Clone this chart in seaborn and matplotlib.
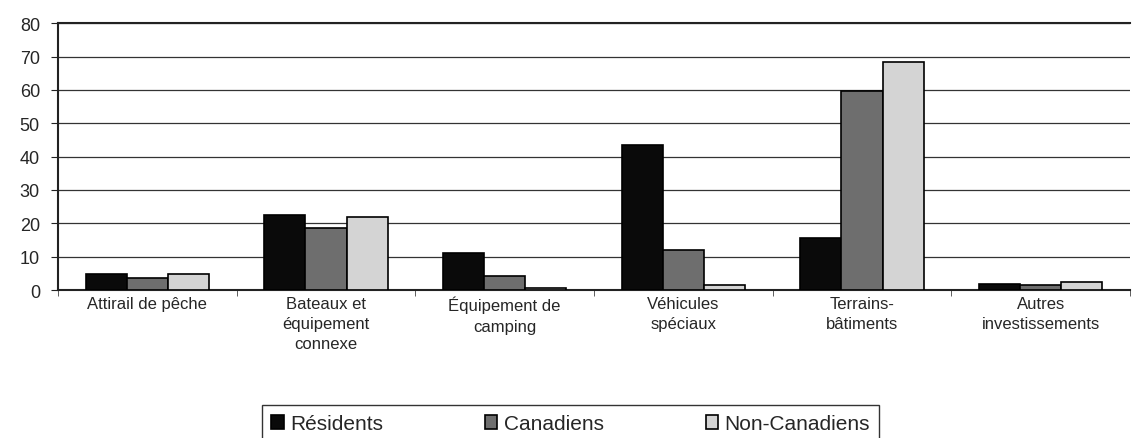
import pandas as pd
import seaborn as sns
import matplotlib.pyplot as plt

categories = ['Attirail de pêche', 'Bateaux et\néquipement\nconnexe', 'Équipement de\ncamping',
              'Véhicules\nspéciaux', 'Terrains-\nbâtiments', 'Autres\ninvestissements']
series = ['Résidents', 'Canadiens', 'Non-Canadiens']
residents = [4.8, 22.5, 11.1, 43.4, 15.6, 1.8]
canadiens = [3.6, 18.6, 4.2, 12.0, 59.6, 1.4]
non_canadiens = [4.8, 21.9, 0.6, 1.5, 68.3, 2.4]

rows = []
for s, vals in zip(series, [residents, canadiens, non_canadiens]):
    for c, v in zip(categories, vals):
        rows.append({'Catégorie': c, 'Groupe': s, 'Valeur': v})
df = pd.DataFrame(rows)

sns.set_style('white')
plt.rcParams['font.family'] = ['Liberation Sans', 'DejaVu Sans']

fig = plt.figure(figsize=(11.32, 4.39), dpi=100)
ax = fig.add_axes([0.0512, 0.337, 0.947, 0.608])
palette = {'Résidents': '#0a0a0a', 'Canadiens': '#6e6e6e', 'Non-Canadiens': '#d4d4d4'}
sns.barplot(data=df, x='Catégorie', y='Valeur', hue='Groupe', palette=palette,
            width=0.69, edgecolor='black', linewidth=1.2, saturation=1, ax=ax, zorder=3)

ax.set_ylim(0, 80)
ax.set_yticks(range(0, 81, 10))
ax.set_xlim(-0.5, 5.5)
ax.yaxis.grid(True, color='#333333', linewidth=0.9)
ax.set_axisbelow(True)
ax.set_xlabel('')
ax.set_ylabel('')
for side in ['left', 'top', 'bottom']:
    ax.spines[side].set_color('#222222')
    ax.spines[side].set_linewidth(1.5)
ax.spines['right'].set_visible(False)
ax.tick_params(axis='y', labelsize=13, length=5, left=True, color='#222222', pad=8)
ax.tick_params(axis='x', labelsize=12, length=0, pad=4)
for lab in ax.get_xticklabels():
    lab.set_linespacing(1.45)
ax.set_xticks([i + 0.5 for i in range(-1, 6)], minor=True)
ax.tick_params(axis='x', which='minor', bottom=True, length=4, color='#444444')

handles, labels = ax.get_legend_handles_labels()
ax.legend_.remove()
leg = fig.legend(handles, labels, loc='lower center', bbox_to_anchor=(0.504, -0.02), ncol=3,
                 fontsize=15, frameon=True, fancybox=False, edgecolor='black',
                 handlelength=0.6, handleheight=0.6, handletextpad=0.3, columnspacing=4.9,
                 borderpad=0.45, borderaxespad=0.2)
leg.get_frame().set_linewidth(1.0)

fig.savefig('out.png', dpi=100)
